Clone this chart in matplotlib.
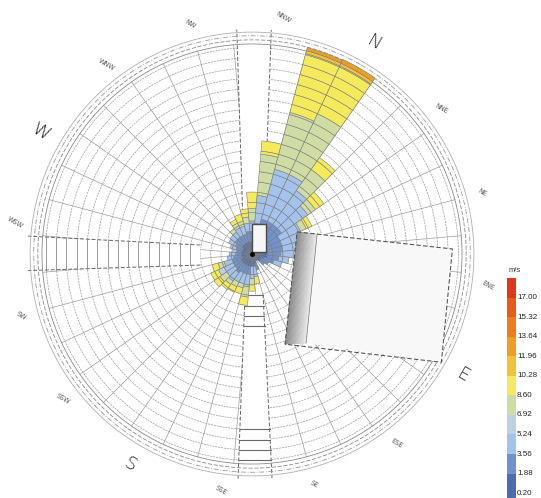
import numpy as np
import matplotlib
matplotlib.use("Agg")
import matplotlib.pyplot as plt
from matplotlib.patches import Polygon, Rectangle

# ---------------- data ----------------
speed_levels = [0.20, 1.88, 3.56, 5.24, 6.92, 8.60, 10.28, 11.96, 13.64, 15.32, 17.00]
level_colors = ['#4b6eb2', '#6f93cf', '#a3c2ec', '#bcd2e0', '#cfdca4', '#f5ea5c',
                '#f3c234', '#f09e22', '#ec7c1c', '#e75a18', '#e0361a']

compass_labels = ['N', 'NNE', 'NE', 'ENE', 'E', 'ESE', 'SE', 'SSE',
                  'S', 'SSW', 'SW', 'WSW', 'W', 'WNW', 'NW', 'NNW']
compass_dirs = [0, 22.5, 45, 67.5, 90, 112.5, 135, 157.5,
                180, 202.5, 225, 247.5, 270, 292.5, 315, 337.5]

# wind-rose sectors: direction, radial band edges and speed-class index of each band
sector_dirs = [0, 10, 20, 30, 40, 50, 60, 70, 80, 90, 100, 110, 120, 130, 140, 150, 160, 170,
               180, 190, 200, 210, 220, 230, 240, 250, 260, 270, 280, 290, 300, 310, 320, 330, 340, 350]
sector_edges = [
    [0, 1.5, 3.5, 8.5, 15.0, 20.1, 20.4, 20.8],   # 0
    [0, 1.5, 3.5, 7.5, 10.0, 11.4],               # 10
    [0, 1.5, 3.5, 6.6, 7.5, 8.5],                 # 20
    [0, 1.5, 3.0, 5.2, 5.8, 6.4],                 # 30
    [0, 1.5, 3.0, 4.8],                           # 40
    [0, 1.5, 3.0, 4.6],                           # 50
    [0, 1.5, 2.8, 4.0],                           # 60
    [0, 1.5, 2.6, 3.6],                           # 70
    [0, 1.2, 2.2, 3.0],                           # 80
    [0, 1.0, 1.8],                                # 90
    [0, 1.0, 1.5],                                # 100
    [0, 0.8],                                     # 110
    [0, 0.8],                                     # 120
    [0, 1.0, 1.6],                                # 130
    [0, 1.2, 2.2, 2.9],                           # 140
    [0, 1.2, 2.4, 3.0, 3.6],                      # 150
    [0, 1.2, 2.0, 3.2, 4.2, 5.0],                 # 160
    [0, 1.2, 2.0, 3.0, 3.4, 4.0],                 # 170
    [0, 1.2, 2.0, 3.0, 3.5, 4.1],                 # 180
    [0, 1.2, 2.2, 3.2, 3.6, 4.2],                 # 190
    [0, 1.2, 2.0, 3.0, 3.8, 4.5],                 # 200
    [0, 1.2, 2.0, 3.0, 3.6, 4.4],                 # 210
    [0, 1.0, 2.0, 2.8, 3.4, 4.0],                 # 220
    [0, 1.0, 1.8, 2.4],                           # 230
    [0, 1.0, 1.6, 2.2],                           # 240
    [0, 1.0, 1.5, 1.9],                           # 250
    [0, 1.0, 1.6, 2.2],                           # 260
    [0, 1.0, 1.8, 2.5],                           # 270
    [0, 1.2, 2.0, 2.6],                           # 280
    [0, 1.2, 2.0, 2.6, 3.0],                      # 290
    [0, 1.2, 2.0, 2.8, 3.3, 3.7],                 # 300
    [0, 1.2, 2.0, 2.8, 3.3, 4.0],                 # 310
    [0, 1.2, 2.2, 3.0, 3.6, 4.4],                 # 320
    [0, 1.2, 2.2, 3.2, 4.4, 6.0],                 # 330
    [0, 1.5, 3.0, 5.7, 9.7, 11.0],                # 340
    [0, 1.5, 3.5, 8.5, 14.2, 20.1, 20.4, 20.7],   # 350
]
sector_bins = [
    [0, 1, 2, 4, 5, 6, 7],
    [0, 1, 2, 4, 5],
    [0, 1, 2, 4, 5],
    [0, 1, 2, 4, 5],
    [0, 1, 2],
    [0, 1, 2],
    [0, 1, 2],
    [0, 1, 2],
    [0, 1, 2],
    [0, 1],
    [0, 1],
    [0],
    [0],
    [0, 1],
    [0, 2, 5],
    [0, 2, 4, 5],
    [0, 1, 2, 4, 5],
    [0, 1, 2, 4, 5],
    [0, 1, 2, 4, 5],
    [0, 1, 2, 4, 5],
    [0, 1, 2, 4, 5],
    [0, 1, 2, 3, 5],
    [0, 1, 2, 4, 5],
    [0, 1, 2],
    [0, 1, 2],
    [0, 1, 2],
    [0, 1, 2],
    [0, 1, 2],
    [0, 1, 2],
    [0, 1, 2, 4],
    [0, 1, 2, 4, 5],
    [0, 1, 2, 4, 5],
    [0, 1, 2, 4, 5],
    [0, 1, 2, 4, 5],
    [0, 1, 2, 4, 5],
    [0, 1, 2, 4, 5, 6, 7],
]

# building footprints and wake strips (cartesian, grid units, x right / y up)
small_bld_x = [0.0, 1.36, 1.36, 0.0]
small_bld_y = [0.2, 0.2, 2.9, 2.9]
big_bld_x = [4.37, 19.42, 18.35, 3.20]
big_bld_y = [2.14, 0.49, -10.49, -8.74]
big_face_x = [6.31, 5.24]
big_face_y = [1.94, -8.64]
up_strip_x = [-0.87, 1.17, 1.9, -1.5]
up_strip_y = [2.9, 2.9, 22.5, 22.5]
left_strip_x = [-5.0, -5.0, -23.0, -23.0]
left_strip_y = [0.87, -1.07, -1.65, 1.8]
south_strip_x = [-0.68, 1.07, 2.0, -1.4]
south_strip_y = [-3.9, -3.9, -23.0, -23.0]

ROT = 30.0       # rose rotated clockwise (degrees)
RMAX = 21.8
N_RINGS = 20

# ---------------- figure ----------------
fig = plt.figure(figsize=(5.41, 4.98), dpi=100)
cx, cy, R = 252, 254, 225
ax = fig.add_axes([(cx - R) / 541, (498 - cy - R) / 498, 2 * R / 541, 2 * R / 498],
                  projection='polar')
ax.set_theta_zero_location('N', offset=-ROT)
ax.set_theta_direction(-1)
ax.grid(False)
ax.set_xticks([])
ax.set_yticks([])
ax.spines['polar'].set_visible(False)


def cart2pol(x, y):
    x = np.asarray(x, float)
    y = np.asarray(y, float)
    return np.arctan2(x, y) - np.deg2rad(ROT), np.hypot(x, y)


def cpoly(xs, ys, **kw):
    th, r = cart2pol(xs, ys)
    p = Polygon(np.column_stack([th, r]), closed=True, **kw)
    ax.add_patch(p)
    return p


def cline(xs, ys, **kw):
    th, r = cart2pol(xs, ys)
    ax.plot(th, r, **kw)


gcol = '#9c9c9c'
# grid rings
tf = np.linspace(0, 2 * np.pi, 1441)
for k in range(1, N_RINGS + 1):
    ax.plot(tf, np.full_like(tf, k), color=gcol, lw=0.5, ls=(0, (3, 1.2)), zorder=1)
# radial lines at sector edges
for e in range(5, 360, 10):
    ax.plot([np.deg2rad(e)] * 2, [0, 20.35], color=gcol, lw=0.5, zorder=1)

# wake strips (white)
for xs, ys in [(up_strip_x, up_strip_y), (left_strip_x, left_strip_y),
               (south_strip_x, south_strip_y)]:
    cpoly(xs, ys, facecolor='white', edgecolor='none', zorder=2)
    cline([xs[0], xs[3]], [ys[0], ys[3]], color='#666', lw=0.7, ls=(0, (4, 2)), zorder=2.2)
    cline([xs[1], xs[2]], [ys[1], ys[2]], color='#666', lw=0.7, ls=(0, (4, 2)), zorder=2.2)

# chords inside strips
for k in range(6, 21):
    x = -k
    ytop = np.interp(x, [-23, -5], [left_strip_y[3], left_strip_y[0]])
    ybot = np.interp(x, [-23, -5], [left_strip_y[2], left_strip_y[1]])
    cline([x, x], [ybot, ytop], color='#8a8a8a', lw=0.6, zorder=2.3)
for k in list(range(4, 8)) + list(range(17, 21)):
    y = -k
    xl = np.interp(y, [-23, -3.9], [south_strip_x[3], south_strip_x[0]])
    xr = np.interp(y, [-23, -3.9], [south_strip_x[2], south_strip_x[1]])
    cline([xl, xr], [y, y], color='#6a6a6a', lw=0.8, zorder=2.3)

# outer circles
for rr, ls, c in [(20.35, '-', '#8a8a8a'), (20.75, (0, (5, 2)), '#8a8a8a'),
                  (21.15, (0, (6, 2, 1, 2)), '#9a9a9a'), (21.5, '-', '#b0b0b0')]:
    ax.plot(tf, np.full_like(tf, rr), color=c, lw=0.6, ls=ls, zorder=2.6)

# wind-rose cells
width = np.deg2rad(10)
for d, edges, bins in zip(sector_dirs, sector_edges, sector_bins):
    for r0, r1, b in zip(edges[:-1], edges[1:], bins):
        cuts = [r0] + [k for k in range(int(np.floor(r0)) + 1, int(np.ceil(r1))) if r0 < k < r1] + [r1]
        for a, bb in zip(cuts[:-1], cuts[1:]):
            ax.bar(np.deg2rad(d), bb - a, width=width, bottom=a, color=level_colors[b],
                   edgecolor='#7d7d7d', linewidth=0.4, zorder=3)

# small building
cpoly(small_bld_x, small_bld_y, facecolor='#f6f6f6', edgecolor='#4a4a4a', lw=1.0, zorder=6)
ax.plot([0], [0], 'o', color='black', ms=2.5, zorder=6)

# big building: shaded face with gradient + roof
tl = np.array([big_bld_x[0], big_bld_y[0]])
bl = np.array([big_bld_x[3], big_bld_y[3]])
ft = np.array([big_face_x[0], big_face_y[0]])
fb = np.array([big_face_x[1], big_face_y[1]])
cpoly([ft[0], big_bld_x[1], big_bld_x[2], fb[0]], [ft[1], big_bld_y[1], big_bld_y[2], fb[1]],
      facecolor='#f8f8f8', edgecolor='none', zorder=6)
N = 24
for i in range(N):
    t0, t1 = i / N, (i + 1) / N
    p0 = tl + t0 * (ft - tl); p1 = tl + t1 * (ft - tl)
    q1 = bl + t1 * (fb - bl); q0 = bl + t0 * (fb - bl)
    g = 0.52 + 0.4 * (i + 0.5) / N
    cpoly([p0[0], p1[0], q1[0], q0[0]], [p0[1], p1[1], q1[1], q0[1]],
          facecolor=(g, g, g), edgecolor=(g, g, g), lw=0.3, zorder=6)
cpoly(big_bld_x, big_bld_y, facecolor='none', edgecolor='#555', lw=0.8, ls=(0, (4, 2)), zorder=7)
cline([ft[0], fb[0]], [ft[1], fb[1]], color='#777', lw=0.5, zorder=7)

ax.set_ylim(0, RMAX)

# compass labels
for lab, d in zip(compass_labels, compass_dirs):
    big = lab in ('N', 'E', 'S', 'W')
    ax.text(np.deg2rad(d), 23.6 if big else 23.1, lab, rotation=-ROT,
            ha='center', va='center', rotation_mode='anchor', clip_on=False,
            fontsize=13 if big else 4.8, color='#222' if big else '#555',
            fontweight='light' if big else 'normal')

# colour bar
cax = fig.add_axes([507 / 541, 0, 9 / 541, (498 - 278) / 498])
cax.set_xlim(0, 1)
cax.set_ylim(-0.25, 11)
cax.axis('off')
for k, c in enumerate(level_colors):
    y0 = -0.3 if k == 0 else k
    cax.add_patch(Rectangle((0, y0), 1, k + 1 - y0, facecolor=c, edgecolor='none'))
for k, v in enumerate(speed_levels):
    cax.text(1.12, k, f'{v:.2f}', va='center', ha='left', fontsize=5.8, color='#222',
             family='Liberation Sans', clip_on=False)
fig.text(515 / 541, 1 - 270 / 498, 'm/s', fontsize=5.5, ha='center', va='center', color='#333',
         family='Liberation Sans')

fig.savefig('out.png', dpi=100)
